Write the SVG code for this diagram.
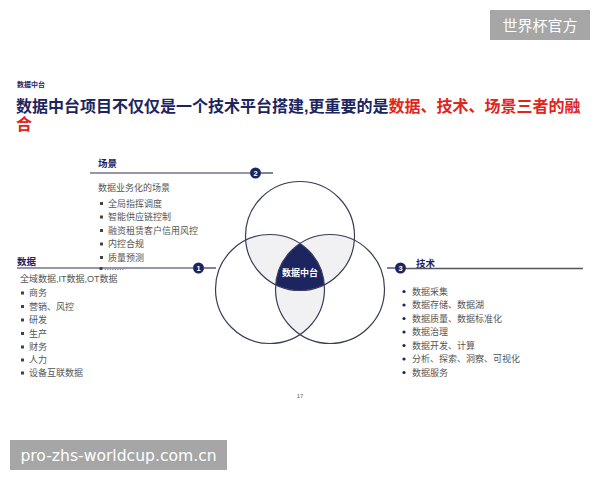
<svg xmlns="http://www.w3.org/2000/svg" width="600" height="480" viewBox="0 0 600 480">
<style>
.cjk{font-family:"Liberation Sans","Noto Sans CJK SC",sans-serif}
.body{font-family:"Liberation Sans","Noto Sans CJK SC",sans-serif;font-size:9px;fill:#555}
.head{font-family:"Liberation Sans","Noto Sans CJK SC",sans-serif;font-size:9.5px;font-weight:bold;fill:#1c2560}
.num{font-family:"Liberation Sans","Noto Sans CJK SC",sans-serif;font-size:7.5px;font-weight:bold;fill:#fff;text-anchor:middle}
.ring{fill:none;stroke:#3a3d58;stroke-width:1.2}
.rule{stroke:#2b3158;stroke-width:1.2;fill:none}
.dot{fill:#1c2560}
.bl{fill:#444}
</style>
<defs>
<clipPath id="cT"><circle cx="300" cy="236" r="54.5"/></clipPath>
<clipPath id="cL"><circle cx="270" cy="289" r="54.5"/></clipPath>
<clipPath id="cR"><circle cx="330" cy="289" r="54.5"/></clipPath>
</defs>
<rect width="600" height="480" fill="#fff"/>

<g id="title">
<text x="17" y="86.5" class="cjk" font-size="7" font-weight="bold" fill="#1c2560">数据中台</text>
<text x="16" y="112" class="cjk" font-size="16" font-weight="bold" fill="#1c2560">数据中台项目不仅仅是一个技术平台搭建,更重要的是<tspan fill="#e1251b">数据、技术、场景三者的融</tspan></text>
<text x="16" y="130" class="cjk" font-size="16" font-weight="bold" fill="#e1251b">合</text>
</g>

<g id="venn">
<circle cx="300" cy="236" r="54.5" fill="#f1f1f3" clip-path="url(#cL)"/>
<circle cx="300" cy="236" r="54.5" fill="#f1f1f3" clip-path="url(#cR)"/>
<circle cx="270" cy="289" r="54.5" fill="#f1f1f3" clip-path="url(#cR)"/>
<g clip-path="url(#cL)"><circle cx="300" cy="236" r="54.5" fill="#1c2560" clip-path="url(#cR)"/></g>
<circle class="ring" cx="300" cy="236" r="54.5"/>
<circle class="ring" cx="270" cy="289" r="54.5"/>
<circle class="ring" cx="330" cy="289" r="54.5"/>
<text x="300" y="275.5" class="cjk" font-size="9" font-weight="bold" fill="#fff" text-anchor="middle">数据中台</text>
</g>

<g id="connectors">
<line class="rule" x1="90" y1="173" x2="250" y2="173"/>
<line class="rule" x1="261" y1="173" x2="273" y2="173"/>
<line class="rule" x1="17" y1="268" x2="193" y2="268"/>
<line class="rule" x1="204" y1="268" x2="216" y2="268"/>
<line class="rule" x1="387" y1="268" x2="395" y2="268"/>
<line x1="406" y1="268.5" x2="583" y2="268.5" stroke="#555" stroke-width="1.4"/>
</g>

<g id="badge2"><circle cx="255.5" cy="173" r="5.5" class="dot"/><text x="255.5" y="175.8" class="num">2</text></g>
<g id="badge1"><circle cx="198.5" cy="268" r="5.5" class="dot"/><text x="198.5" y="270.8" class="num">1</text></g>
<g id="badge3"><circle cx="400.5" cy="268" r="5.5" class="dot"/><text x="400.5" y="270.8" class="num">3</text></g>

<g id="scene">
<text x="98" y="166.5" class="head">场景</text>
<text x="98" y="191" class="body">数据业务化的场景</text>
<rect x="100" y="202" width="3" height="3" class="bl"/><text x="108" y="206.5" class="body">全局指挥调度</text>
<rect x="100" y="215.5" width="3" height="3" class="bl"/><text x="108" y="220" class="body">智能供应链控制</text>
<rect x="100" y="229" width="3" height="3" class="bl"/><text x="108" y="233.5" class="body">融资租赁客户信用风控</text>
<rect x="100" y="242.5" width="3" height="3" class="bl"/><text x="108" y="247" class="body">内控合规</text>
<rect x="100" y="256" width="3" height="3" class="bl"/><text x="108" y="260.5" class="body">质量预测</text>
<rect x="99.5" y="267" width="3" height="3" class="bl"/><text x="104" y="270" class="body" font-size="6">........</text>
</g>

<g id="data">
<text x="17" y="265" class="head">数据</text>
<text x="20" y="282" class="body">全域数据,IT数据,OT数据</text>
<rect x="21" y="291.5" width="3" height="3" class="bl"/><text x="29" y="296" class="body">商务</text>
<rect x="21" y="305" width="3" height="3" class="bl"/><text x="29" y="309.5" class="body">营销、风控</text>
<rect x="21" y="318.5" width="3" height="3" class="bl"/><text x="29" y="323" class="body">研发</text>
<rect x="21" y="332" width="3" height="3" class="bl"/><text x="29" y="336.5" class="body">生产</text>
<rect x="21" y="345.5" width="3" height="3" class="bl"/><text x="29" y="350" class="body">财务</text>
<rect x="21" y="358.5" width="3" height="3" class="bl"/><text x="29" y="363" class="body">人力</text>
<rect x="21" y="371.5" width="3" height="3" class="bl"/><text x="29" y="376" class="body">设备互联数据</text>
</g>

<g id="tech">
<text x="416" y="267" class="head">技术</text>
<circle cx="404" cy="291.5" r="1.6" class="dot"/><text x="412" y="294.5" class="body">数据采集</text>
<circle cx="404" cy="305" r="1.6" class="dot"/><text x="412" y="308" class="body">数据存储、数据湖</text>
<circle cx="404" cy="318.5" r="1.6" class="dot"/><text x="412" y="321.5" class="body">数据质量、数据标准化</text>
<circle cx="404" cy="332" r="1.6" class="dot"/><text x="412" y="335" class="body">数据治理</text>
<circle cx="404" cy="345.5" r="1.6" class="dot"/><text x="412" y="348.5" class="body">数据开发、计算</text>
<circle cx="404" cy="359" r="1.6" class="dot"/><text x="412" y="362" class="body">分析、探索、洞察、可视化</text>
<circle cx="404" cy="372.5" r="1.6" class="dot"/><text x="412" y="375.5" class="body">数据服务</text>
</g>

<text x="300" y="398" class="cjk" font-size="6" fill="#666" text-anchor="middle">17</text>

<g id="wm1">
<rect x="490" y="10" width="100" height="30" fill="#a6a6a6"/>
<text x="540" y="30.5" class="cjk" font-size="15" fill="#fff" text-anchor="middle">世界杯官方</text>
</g>
<g id="wm2">
<rect x="10" y="440" width="217" height="30" fill="#a6a6a6"/>
<text x="118.5" y="460.5" font-family="'DejaVu Sans',sans-serif" font-size="15.6" fill="#fff" text-anchor="middle">pro-zhs-worldcup.com.cn</text>
</g>
</svg>
